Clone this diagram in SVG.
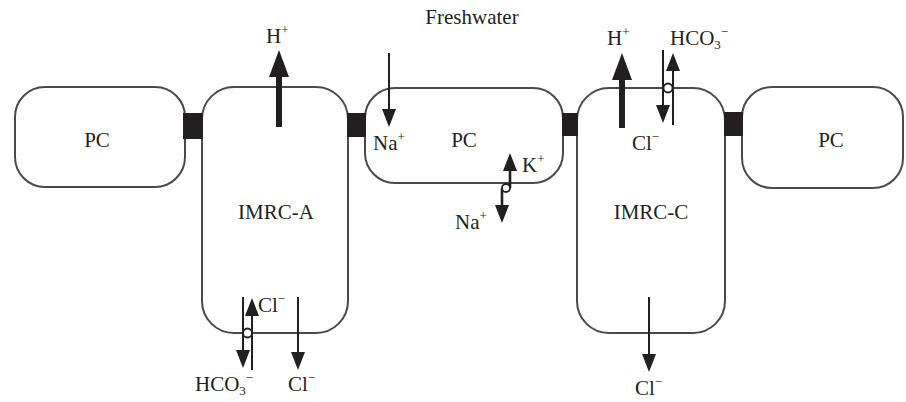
<svg xmlns="http://www.w3.org/2000/svg" width="906" height="402" viewBox="0 0 906 402">
<defs>
<style>
.cell{fill:#fff;stroke:#4a4a4a;stroke-width:2}
.tj{fill:#231f20}
.lbl{font-family:"Liberation Serif","Times New Roman",serif;font-size:21px;fill:#231f20}
.c{text-anchor:middle}
.thin{stroke:#231f20;stroke-width:2;fill:none}
.mid{stroke:#231f20;stroke-width:2.6;fill:none}
.thick{stroke:#231f20;stroke-width:6;fill:none}
.ex{fill:#fff;stroke:#231f20;stroke-width:1.8}
</style>
<marker id="ah" viewBox="0 0 18 14" refX="12" refY="7" markerWidth="18" markerHeight="14" markerUnits="userSpaceOnUse" orient="auto">
<path d="M0,0 L18,7 L0,14 z" fill="#231f20"/>
</marker>
<marker id="ahb" viewBox="0 0 27 20" refX="12" refY="10" markerWidth="27" markerHeight="20" markerUnits="userSpaceOnUse" orient="auto">
<path d="M0,0 L27,10 L0,20 z" fill="#231f20"/>
</marker>
</defs>
<rect width="906" height="402" fill="#fff"/>

<g id="pc-left">
<rect class="cell" x="15" y="87" width="170" height="100" rx="30"/>
<text class="lbl c" x="97" y="147">PC</text>
</g>
<g id="imrc-a">
<rect class="cell" x="202" y="87" width="146" height="246" rx="32"/>
<text class="lbl c" x="276" y="219">IMRC-A</text>
</g>
<g id="pc-mid">
<rect class="cell" x="365" y="88" width="198" height="95" rx="30"/>
<text class="lbl c" x="464" y="147">PC</text>
</g>
<g id="imrc-c">
<rect class="cell" x="577" y="88" width="148" height="245" rx="32"/>
<text class="lbl c" x="651" y="219">IMRC-C</text>
</g>
<g id="pc-right">
<rect class="cell" x="742" y="87" width="161" height="101" rx="30"/>
<text class="lbl c" x="831" y="147">PC</text>
</g>

<g id="junctions">
<rect class="tj" x="183" y="113" width="20" height="26"/>
<rect class="tj" x="347" y="113" width="19" height="24"/>
<rect class="tj" x="562" y="113" width="16" height="23"/>
<rect class="tj" x="724" y="112" width="19" height="24"/>
</g>

<g id="connectors">
<line class="thick" x1="279" y1="127" x2="279" y2="65" marker-end="url(#ahb)"/>
<line class="thick" x1="622" y1="128" x2="622" y2="68" marker-end="url(#ahb)"/>
<line class="thin" x1="389" y1="53" x2="389" y2="121" marker-end="url(#ah)"/>
<line class="mid" x1="510" y1="188" x2="510" y2="159" marker-end="url(#ah)"/>
<line class="mid" x1="502" y1="188" x2="502" y2="217" marker-end="url(#ah)"/>
<circle class="ex" cx="506" cy="188" r="4"/>
<line class="thin" x1="663" y1="50" x2="663" y2="117" marker-end="url(#ah)"/>
<line class="thin" x1="673" y1="125" x2="673" y2="59" marker-end="url(#ah)"/>
<circle class="ex" cx="668" cy="88" r="4.5"/>
<line class="thin" x1="243" y1="297" x2="243" y2="362" marker-end="url(#ah)"/>
<line class="thin" x1="252" y1="370" x2="252" y2="304" marker-end="url(#ah)"/>
<circle class="ex" cx="247.5" cy="333" r="4.5"/>
<line class="thin" x1="298" y1="297" x2="298" y2="364" marker-end="url(#ah)"/>
<line class="thin" x1="649" y1="297" x2="649" y2="366" marker-end="url(#ah)"/>
</g>

<g id="labels">
<text class="lbl c" x="472" y="24">Freshwater</text>
<text class="lbl" x="266" y="43">H<tspan font-size="13" dy="-9">+</tspan></text>
<text class="lbl" x="607" y="45">H<tspan font-size="13" dy="-9">+</tspan></text>
<text class="lbl" x="670" y="45">HCO<tspan font-size="13" dy="4">3</tspan><tspan font-size="13" dy="-13">−</tspan></text>
<text class="lbl" x="373" y="150">Na<tspan font-size="13" dy="-9">+</tspan></text>
<text class="lbl" x="522" y="172">K<tspan font-size="13" dy="-9">+</tspan></text>
<text class="lbl" x="455" y="229">Na<tspan font-size="13" dy="-9">+</tspan></text>
<text class="lbl" x="632" y="150">Cl<tspan font-size="13" dy="-9">−</tspan></text>
<text class="lbl" x="258" y="312">Cl<tspan font-size="13" dy="-9">−</tspan></text>
<text class="lbl" x="195" y="391">HCO<tspan font-size="13" dy="4">3</tspan><tspan font-size="13" dy="-13">−</tspan></text>
<text class="lbl" x="288" y="391">Cl<tspan font-size="13" dy="-9">−</tspan></text>
<text class="lbl" x="635" y="395">Cl<tspan font-size="13" dy="-9">−</tspan></text>
</g>
</svg>
